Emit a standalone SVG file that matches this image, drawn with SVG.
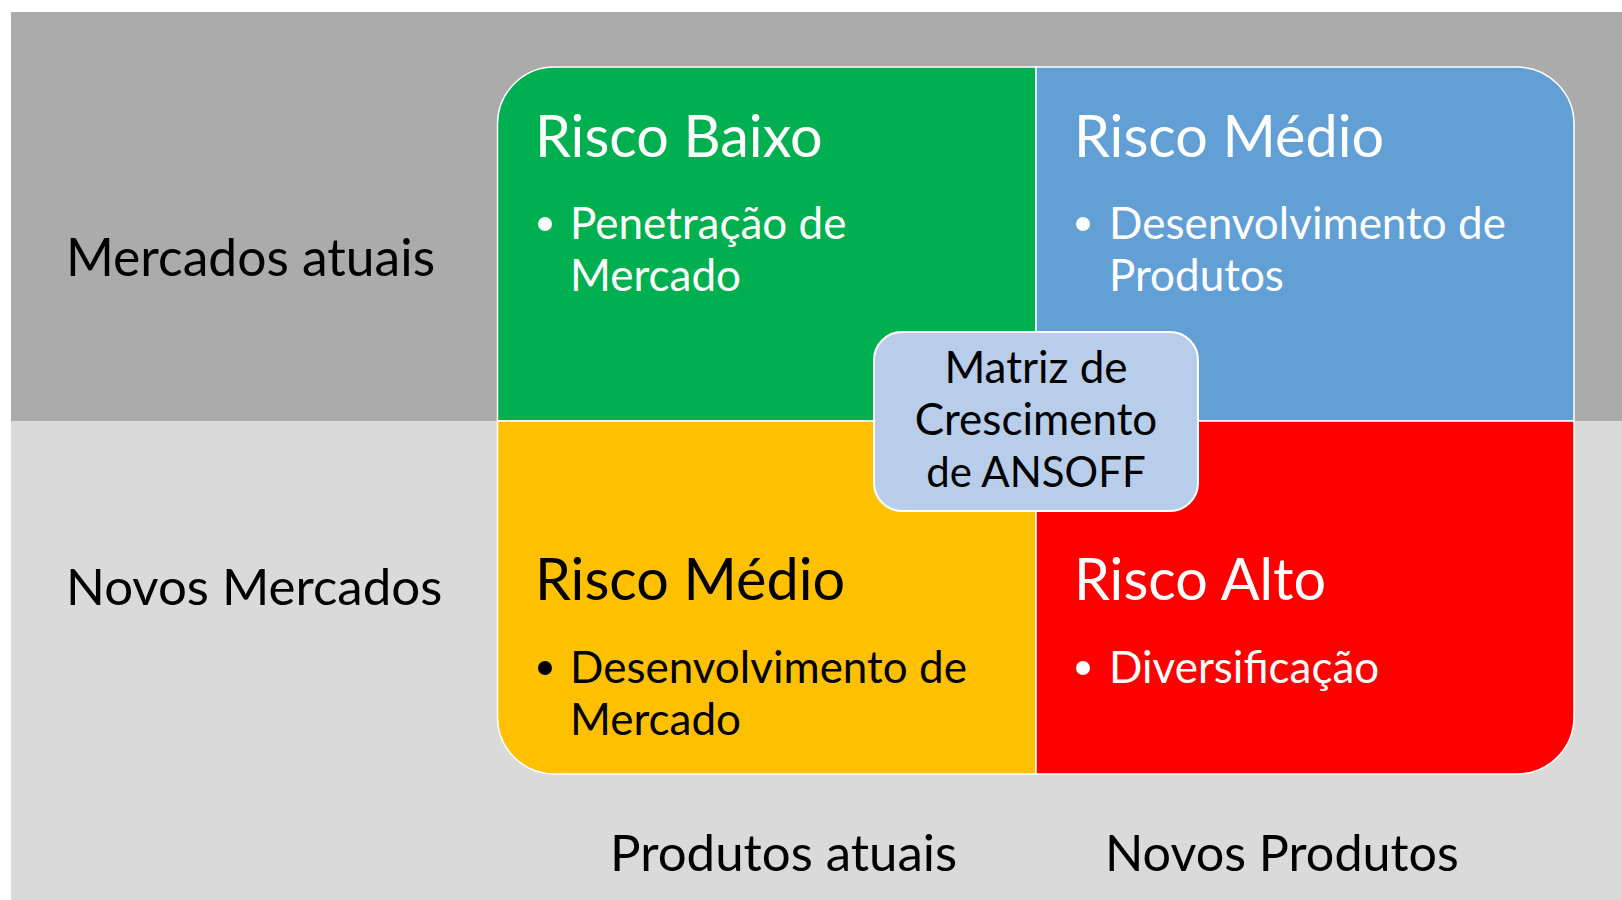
<svg xmlns="http://www.w3.org/2000/svg" width="1622" height="900" viewBox="0 0 1622 900">
<style>
text{font-family:Lato,"Open Sans","Liberation Sans",sans-serif}
.ax{font-size:51px;fill:#000}
.hd{font-size:57.5px}
.bl{font-size:44px}
.w{fill:#fff}
.k{fill:#000}
.q{stroke:#fff;stroke-width:1.5}
</style>
<rect x="0" y="0" width="1622" height="900" fill="#fff"/>
<rect x="11" y="12" width="1611" height="409" fill="#ABABAB"/>
<rect x="11" y="421" width="1611" height="479" fill="#DADADA"/>
<g id="axis-labels">
<text class="ax" x="66" y="276" style="font-size:51.6px">Mercados atuais</text>
<text class="ax" x="66" y="605">Novos Mercados</text>
<text class="ax" x="610" y="871">Produtos atuais</text>
<text class="ax" x="1105" y="871" style="font-size:50.3px">Novos Produtos</text>
</g>
<g id="q-risco-baixo">
<path class="q" fill="#00B050" d="M497.5,421 V124 A57,57 0 0 1 554.5,67 H1036 V421 Z"/>
<text class="hd w" x="535" y="157">Risco Baixo</text>
<circle class="w" cx="545" cy="224" r="7"/>
<text class="bl w" x="570" y="239">Penetração de</text>
<text class="bl w" x="570" y="291">Mercado</text>
</g>
<g id="q-risco-medio-produtos">
<path class="q" fill="#629FD5" d="M1036,67 H1517 A57,57 0 0 1 1574,124 V421 H1036 Z"/>
<text class="hd w" x="1074" y="157">Risco Médio</text>
<circle class="w" cx="1083" cy="224" r="7"/>
<text class="bl w" x="1109" y="239">Desenvolvimento de</text>
<text class="bl w" x="1109" y="291">Produtos</text>
</g>
<g id="q-risco-medio-mercado">
<path class="q" fill="#FFC000" d="M497.5,421 H1036 V774 H554.5 A57,57 0 0 1 497.5,717 Z"/>
<text class="hd k" x="535" y="600">Risco Médio</text>
<circle class="k" cx="545" cy="668" r="7"/>
<text class="bl k" x="570" y="683">Desenvolvimento de</text>
<text class="bl k" x="570" y="735">Mercado</text>
</g>
<g id="q-risco-alto">
<path class="q" fill="#FF0000" d="M1036,421 H1574 V717 A57,57 0 0 1 1517,774 H1036 Z"/>
<text class="hd w" x="1074" y="600">Risco Alto</text>
<circle class="w" cx="1083" cy="668" r="7"/>
<text class="bl w" x="1109" y="683">Diversificação</text>
</g>
<g id="center-ansoff">
<rect x="874" y="332" width="324" height="179" rx="28" fill="#B8CDE9" stroke="#fff" stroke-width="2"/>
<text class="bl k" x="1036" y="383" text-anchor="middle">Matriz de</text>
<text class="bl k" x="1036" y="435" text-anchor="middle">Crescimento</text>
<text class="bl k" x="1036" y="487" text-anchor="middle" style="font-size:42px">de ANSOFF</text>
</g>
<g id="connectors"></g>
</svg>
